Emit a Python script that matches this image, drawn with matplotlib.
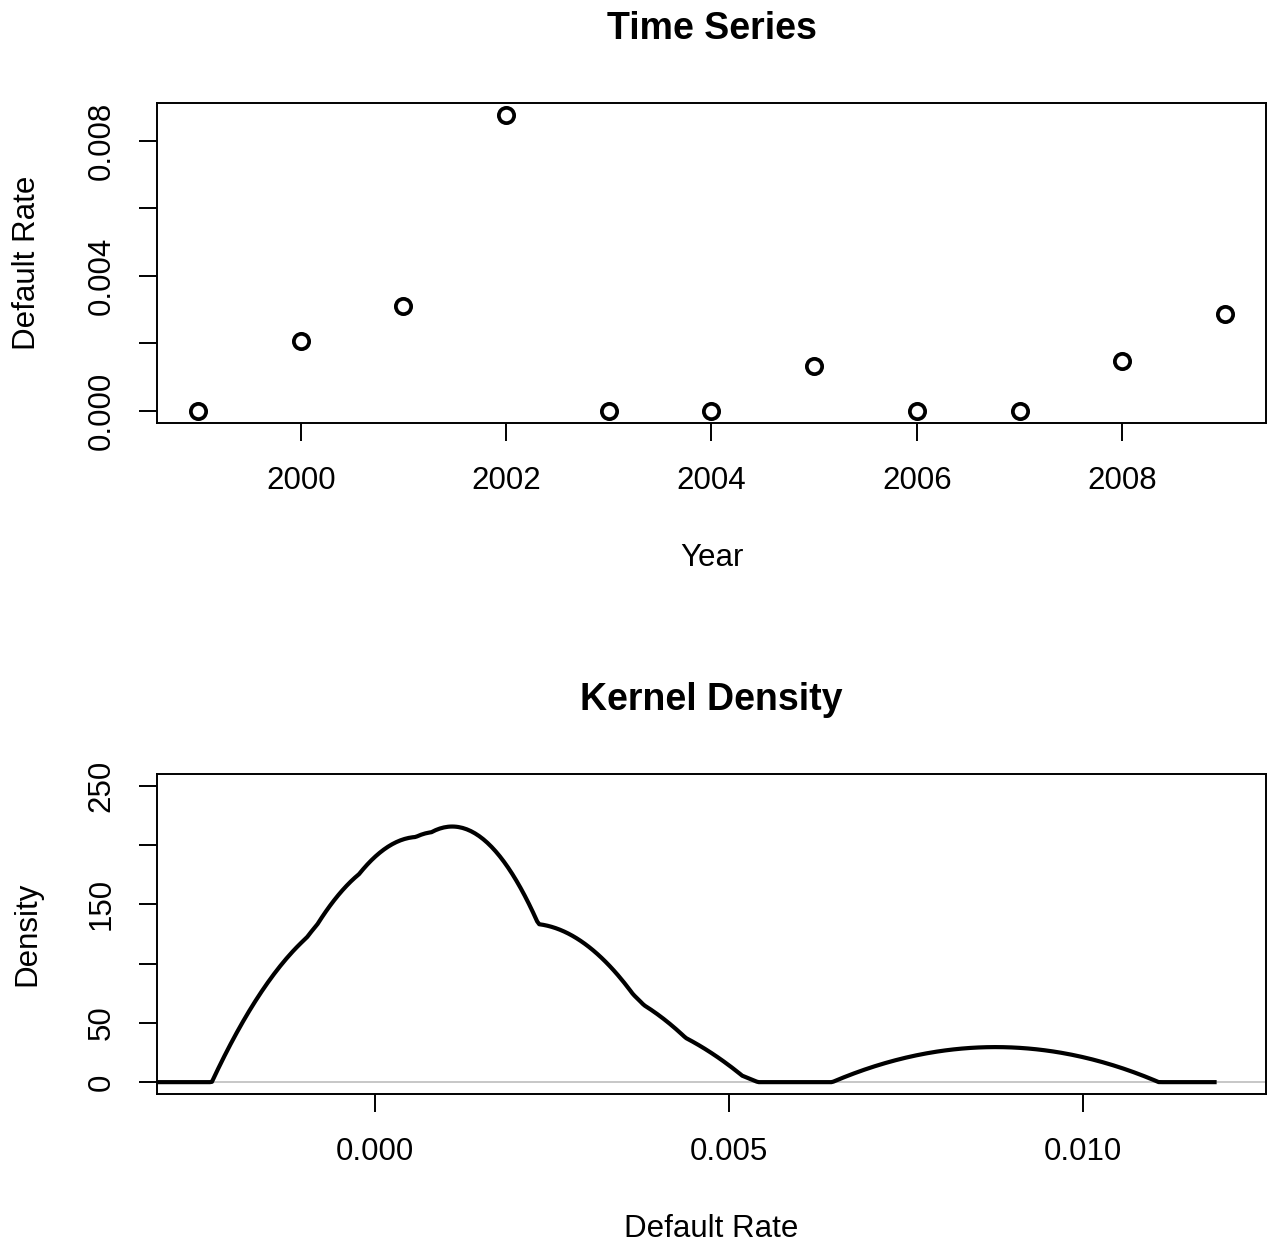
import numpy as np
import matplotlib
matplotlib.use("Agg")
import matplotlib.pyplot as plt

# data
years = [1999, 2000, 2001, 2002, 2003, 2004, 2005, 2006, 2007, 2008, 2009]
default_rate = [0.0, 0.00208, 0.0031, 0.00876, 0.0, 0.0, 0.00134, 0.0, 0.0, 0.00149, 0.00288]

plt.rcParams["font.family"] = ["Liberation Sans", "DejaVu Sans"]

def kde_epanechnikov(x, n=512, cut=3):
    # same recipe as R's density(x, kernel="epanechnikov") with bw.nrd0
    x = np.asarray(x, dtype=float)
    q75, q25 = np.percentile(x, [75, 25])
    lo = min(np.std(x, ddof=1), (q75 - q25) / 1.34)
    bw = 0.9 * lo * len(x) ** -0.2
    grid = np.linspace(x.min() - cut * bw, x.max() + cut * bw, n)
    a = bw * np.sqrt(5)
    u = (grid[:, None] - x[None, :]) / a
    k = np.where(np.abs(u) < 1, 0.75 / a * (1 - u ** 2), 0.0)
    return grid, k.mean(axis=1)

fig = plt.figure(figsize=(12.77, 12.47), dpi=100)
ax1 = fig.add_axes([0.1229, 0.6608, 0.8685, 0.2566])
ax2 = fig.add_axes([0.1229, 0.1227, 0.8685, 0.2566])

FS = 22.5
tick_kw = dict(length=13, width=1.4, labelsize=FS, color="black")

# --- time series ---
ax1.plot(years, default_rate, linestyle="none", marker="o", markersize=11,
         markerfacecolor="none", markeredgecolor="black", markeredgewidth=2.7)
ax1.set_xlim(1998.6, 2009.4)
ax1.set_ylim(-0.00035, 0.00911)
ax1.set_xticks([2000, 2002, 2004, 2006, 2008])
ax1.set_yticks([0, 0.002, 0.004, 0.006, 0.008])
ax1.set_yticklabels(["0.000", "", "0.004", "", "0.008"], rotation=90, va="center")
ax1.tick_params(axis="x", pad=18, **tick_kw)
ax1.tick_params(axis="y", pad=16, **tick_kw)
ax1.set_xlabel("Year", fontsize=FS, labelpad=34)
ax1.set_ylabel("Default Rate", fontsize=FS, labelpad=32)
ax1.set_title("Time Series", fontsize=27, fontweight="bold", pad=46)

# --- kernel density ---
gx, gy = kde_epanechnikov(default_rate)
ax2.axhline(0, color="#bebebe", linewidth=1.2, zorder=1)
ax2.plot(gx, gy, color="black", linewidth=3.0, solid_joinstyle="round", zorder=2)
ax2.set_xlim(-0.00308, 0.01258)
ax2.set_ylim(-10, 260)
ax2.set_xticks([0.0, 0.005, 0.010])
ax2.set_xticklabels(["0.000", "0.005", "0.010"])
ax2.set_yticks([0, 50, 100, 150, 200, 250])
ax2.set_yticklabels(["0", "50", "", "150", "", "250"], rotation=90, va="center")
ax2.tick_params(axis="x", pad=18, **tick_kw)
ax2.tick_params(axis="y", pad=16, **tick_kw)
ax2.set_xlabel("Default Rate", fontsize=FS, labelpad=34)
ax2.set_ylabel("Density", fontsize=FS, labelpad=32)
ax2.set_title("Kernel Density", fontsize=27, fontweight="bold", pad=46)

for ax in (ax1, ax2):
    for s in ax.spines.values():
        s.set_linewidth(1.4)
        s.set_color("black")

fig.savefig("out.png", dpi=100)
